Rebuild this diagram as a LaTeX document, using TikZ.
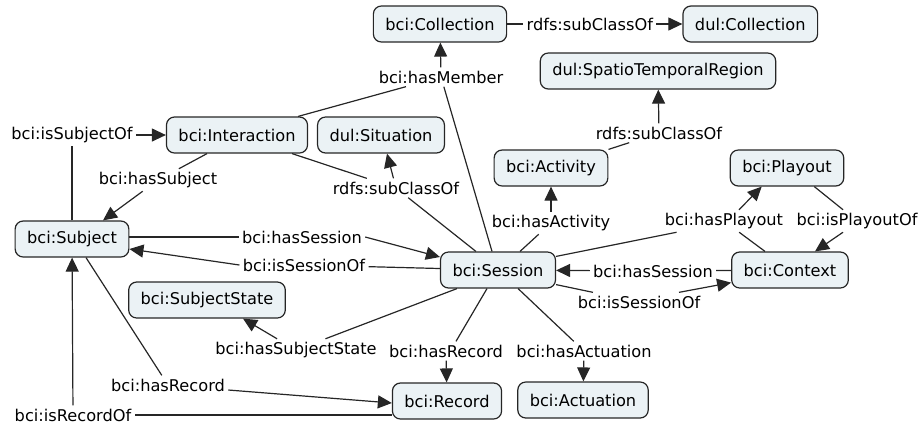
\documentclass[tikz,border=0pt]{standalone}
\usepackage{fontspec}
\setmainfont{DejaVu Sans}
\usetikzlibrary{arrows.meta, positioning, calc}
\definecolor{conceptfill}{HTML}{EBF2F5}

\begin{document}
\begin{tikzpicture}[
    x=0.5pt, y=-0.5pt,
    >={Triangle[length=7pt, width=6.5pt]},
    font=\fontsize{8.1}{9.7}\selectfont,
    base/.style={align=center, inner sep=1.5pt},
    concept/.style={base, draw=black!85, fill=conceptfill, rounded corners=4pt, line width=0.6pt, minimum height=18pt, inner xsep=6pt},
    phrase/.style={base},
    link/.style={line width=0.6pt, black!85},
    arrow/.style={link, ->}
  ]
    \useasboundingbox (0,0) rectangle (920,425);
    \node[concept] (coll) at (440,24) {bci:Collection};
    \node[phrase, right=8pt of coll] (sub1) {rdfs:subClassOf};
    \node[concept, right=13pt of sub1] (dulcoll) {dul:Collection};
    \node[concept] (str) at (658,71) {dul:SpatioTemporalRegion};
    \node[concept] (inter) at (237,135) {bci:Interaction};
    \node[concept] (situ) at (381,135) {dul:Situation};
    \node[concept] (activ) at (551,168) {bci:Activity};
    \node[concept] (playout) at (787,168) {bci:Playout};
    \node[concept] (subj) at (72,239) {bci:Subject};
    \node[concept] (sess) at (498,270) {bci:Session};
    \node[concept] (ctx) at (790,270) {bci:Context};
    \node[concept] (sstate) at (207,300) {bci:SubjectState};
    \node[concept] (rec) at (447,401) {bci:Record};
    \node[concept] (actu) at (583,400) {bci:Actuation};
    \node[phrase] (hasmem) at (441,77) {bci:hasMember};
    \node[phrase] (issubjof) at (72,135) {bci:isSubjectOf};
    \node[phrase] (hassubj) at (158,180) {bci:hasSubject};
    \node[phrase] (sub2) at (396,188) {rdfs:subClassOf};
    \node[phrase] (hasact) at (551,223) {bci:hasActivity};
    \node[phrase] (sub3) at (659,133) {rdfs:subClassOf};
    \node[phrase] (hasplay) at (724,221) {bci:hasPlayout};
    \node[phrase] (isplayof) at (857,221) {bci:isPlayoutOf};
    \node[phrase] (hassessc) at (653,271) {bci:hasSession};
    \node[phrase] (issessc) at (639,302) {bci:isSessionOf};
    \node[phrase] (hassess) at (302,237) {bci:hasSession};
    \node[phrase] (issess) at (304,265) {bci:isSessionOf};
    \node[phrase] (hasss) at (296,350) {bci:hasSubjectState};
    \node[phrase] (hasrec) at (446,351) {bci:hasRecord};
    \node[phrase] (hasactu) at (584,351) {bci:hasActuation};
    \node[phrase] (hasrecs) at (168,385) {bci:hasRecord};
    \node[phrase] (isrecof) at (73,415) {bci:isRecordOf};
    \draw[link] (coll) -- (sub1);
    \draw[arrow] (sub1) -- (dulcoll);
    \draw[link] ($(inter.north east)+(-10,0)$) -- (hasmem);
    \draw[link] ($(sess.north)+(-6,0)$) -- (hasmem);
    \draw[arrow] (hasmem) -- (coll);
    \draw[link] (subj) -- (issubjof);
    \draw[arrow] (issubjof) -- (inter);
    \draw[link] ($(inter.south)+(-30,0)$) -- (hassubj);
    \draw[arrow] (hassubj) -- ($(subj.north)+(31,0)$);
    \draw[link] ($(inter.south east)+(-16,0)$) -- (sub2);
    \draw[arrow] (sub2) -- ($(situ.south)+(6,0)$);
    \draw[link] (sub2) -- ($(sess.north west)+(36,0)$);
    \draw[link] ($(sess.north)+(22,0)$) -- (hasact);
    \draw[arrow] (hasact) -- (activ);
    \draw[link] (activ.north east) -- (sub3);
    \draw[arrow] (sub3) -- (str);
    \draw[link] ($(sess.north east)+(0,5)$) -- ($(hasplay.south west)+(15,0)$);
    \draw[link] ($(ctx.north)+(-25,0)$) -- (hasplay);
    \draw[arrow] ($(hasplay.north)+(15,0)$) -- ($(playout.south west)+(32,0)$);
    \draw[link] ($(playout.south east)+(-30,0)$) -- (isplayof);
    \draw[arrow] ($(isplayof.south)+(-14,0)$) -- ($(ctx.north)+(25,0)$);
    \draw[link] (ctx) -- (hassessc);
    \draw[arrow] (hassessc) -- (sess);
    \draw[link] ($(sess.south east)+(0,-4)$) -- (issessc);
    \draw[arrow] ($(issessc.north)+(40,0)$) -- ($(ctx.south west)+(0,-6)$);
    \draw[link] (subj.east |- hassess) -- (hassess);
    \draw[arrow] (hassess.east) -- ($(sess.west)+(0,-13)$);
    \draw[link] (sess) -- (issess);
    \draw[arrow] (issess.west) -- ($(subj.east)+(0,10)$);
    \draw[link] ($(sess.south west)+(17,0)$) -- (hasss);
    \draw[arrow] (hasss) -- ($(sstate.south)+(36,0)$);
    \draw[link] ($(sess.south)+(-11,0)$) -- ($(hasrec.north)+(10,0)$);
    \draw[arrow] (hasrec) -- (rec);
    \draw[link] ($(sess.south east)+(-38,0)$) -- (hasactu);
    \draw[arrow] (hasactu) -- (actu);
    \draw[link] ($(subj.south)+(14,0)$) -- (hasrecs);
    \draw[arrow] ($(hasrecs.east)+(0,5)$) -- ($(rec.west)+(0,2)$);
    \draw[link] (rec.west |- isrecof) -- (isrecof);
    \draw[arrow] (isrecof) -- (subj);
  \end{tikzpicture}
\end{document}
